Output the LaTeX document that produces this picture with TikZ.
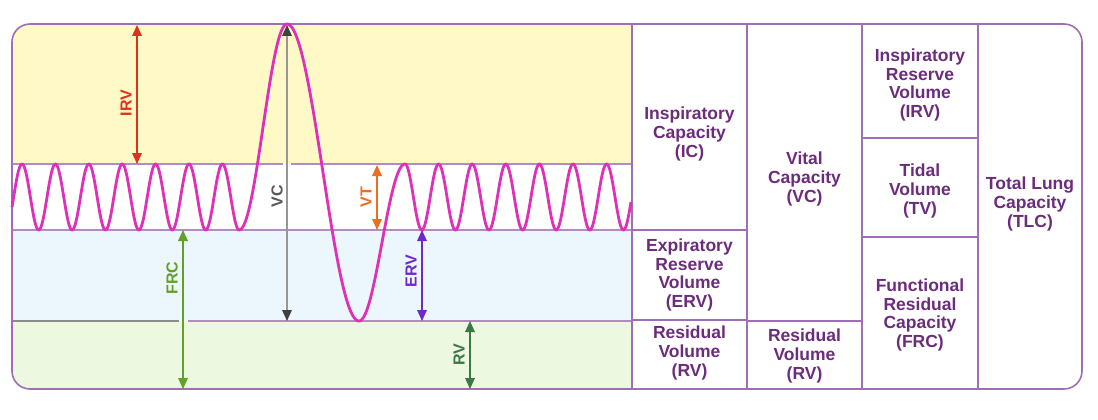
\documentclass[tikz,border=0pt]{standalone}
\usepackage{fontspec}
\setmainfont{Liberation Sans}
\usetikzlibrary{arrows.meta}
\definecolor{frame}{RGB}{160,110,180}
\definecolor{txt}{RGB}{108,44,124}
\definecolor{yel}{RGB}{255,249,200}
\definecolor{blu}{RGB}{236,247,253}
\definecolor{grn}{RGB}{237,248,224}
\definecolor{wave}{RGB}{222,48,184}
\definecolor{cirv}{RGB}{222,50,30}
\definecolor{cvc}{RGB}{150,150,150}
\definecolor{cvt}{RGB}{236,110,30}
\definecolor{cfrc}{RGB}{100,160,40}
\definecolor{cerv}{RGB}{112,40,200}
\definecolor{crv}{RGB}{60,120,70}
\tikzset{
  cell/.style={font=\bfseries\fontsize{17.5}{18.7}\selectfont, text=txt, align=center, inner sep=0pt},
  alab/.style={font=\bfseries\fontsize{16}{17}\selectfont, rotate=90, inner sep=0pt},
  darr/.style={line width=1.7pt, {Triangle[length=11pt,width=9.5pt]}-{Triangle[length=11pt,width=9.5pt]}},
  tline/.style={draw=frame, line width=1.6pt},
  gline/.style={draw=frame!80, line width=1.3pt}
}
\begin{document}
\begin{tikzpicture}[x=1pt,y=-1pt]
\useasboundingbox (0,0) rectangle (1098,420);
% fills
\begin{scope}
\clip[rounded corners=18pt] (12,24) rectangle (1082,389);
\fill[yel] (12,24) rectangle (632,164);
\fill[white] (12,164) rectangle (632,230);
\fill[blu] (12,230) rectangle (632,321);
\fill[grn] (12,321) rectangle (632,389);
\end{scope}
% graph horizontal lines (with small gaps where arrows cross)
\draw[gline] (12,164) -- (283,164);
\draw[gline] (291,164) -- (632,164);
\draw[gline] (12,230) -- (632,230);
\draw[gline, draw=black!45] (12,321) -- (179,321);
\draw[gline] (188,321) -- (632,321);
% table lines
\draw[tline] (632,24) -- (632,389);
\draw[tline] (747,24) -- (747,389);
\draw[tline] (862,24) -- (862,389);
\draw[tline] (978,24) -- (978,389);
\draw[tline] (632,230) -- (747,230);
\draw[tline] (632,320) -- (747,320);
\draw[tline] (747,321) -- (862,321);
\draw[tline] (862,138) -- (978,138);
\draw[tline] (862,237) -- (978,237);
\draw[tline, rounded corners=18pt] (12,24) rectangle (1082,389);
% waveform
\draw[wave, line width=2.8pt, line join=round]
  plot[domain=12:239.1, samples=300] (\x, {197-33*cos(10.778*(\x-22))})
  -- plot[domain=239.1:287, samples=60] (\x, {230-103*(1-cos(3.7578*(\x-239.1)))})
  -- plot[domain=287:359, samples=80] (\x, {24+148.5*(1-cos(2.5*(\x-287)))})
  -- plot[domain=359:405, samples=60] (\x, {321-78.5*(1-cos(3.913*(\x-359)))})
  -- plot[domain=405:631, samples=300] (\x, {197-33*cos(10.714*(\x-405))});
% arrow end points
\coordinate (irvT) at (137,25); \coordinate (irvB) at (137,164);
\coordinate (vcT) at (287,25); \coordinate (vcB) at (287,321);
\coordinate (vtT) at (377,165); \coordinate (vtB) at (377,230);
\coordinate (frcT) at (183,230); \coordinate (frcB) at (183,389);
\coordinate (ervT) at (422,230); \coordinate (ervB) at (422,321);
\coordinate (rvT) at (470,321); \coordinate (rvB) at (470,389);
% arrows
\draw[darr, draw=cirv, fill=cirv] (irvT) -- (irvB);
\draw[line width=1.7pt, draw=cvc, {Triangle[length=11pt,width=9.5pt,fill=black!75,color=black!75]}-{Triangle[length=11pt,width=9.5pt,fill=black!75,color=black!75]}] (vcT) -- (vcB);
\draw[darr, draw=cvt, fill=cvt] (vtT) -- (vtB);
\draw[darr, draw=cfrc, fill=cfrc] (frcT) -- (frcB);
\draw[darr, draw=cerv, fill=cerv] (ervT) -- (ervB);
\draw[darr, draw=crv, fill=crv] (rvT) -- (rvB);
% arrow labels
\node[alab, text=cirv] (lirv) at (126,103) {IRV};
\node[alab, text=black!65] (lvc) at (277,196) {VC};
\node[alab, text=cvt] (lvt) at (366,197) {VT};
\node[alab, text=cfrc] (lfrc) at (172,278) {FRC};
\node[alab, text=cerv] (lerv) at (411,271) {ERV};
\node[alab, text=crv] (lrv) at (459,355) {RV};
% table texts
\node[cell] (ic) at (689.5,134) {Inspiratory\\Capacity\\(IC)};
\node[cell] (erv) at (689.5,275) {Expiratory\\Reserve\\Volume\\(ERV)};
\node[cell] (rv1) at (689.5,353) {Residual\\Volume\\(RV)};
\node[cell] (vc) at (804.5,179) {Vital\\Capacity\\(VC)};
\node[cell] (rv2) at (804.5,356) {Residual\\Volume\\(RV)};
\node[cell] (irv) at (920,85) {Inspiratory\\Reserve\\Volume\\(IRV)};
\node[cell] (tv) at (920,191) {Tidal\\Volume\\(TV)};
\node[cell] (frc) at (920,315) {Functional\\Residual\\Capacity\\(FRC)};
\node[cell] (tlc) at (1030,204) {Total Lung\\Capacity\\(TLC)};
\end{tikzpicture}
\end{document}
